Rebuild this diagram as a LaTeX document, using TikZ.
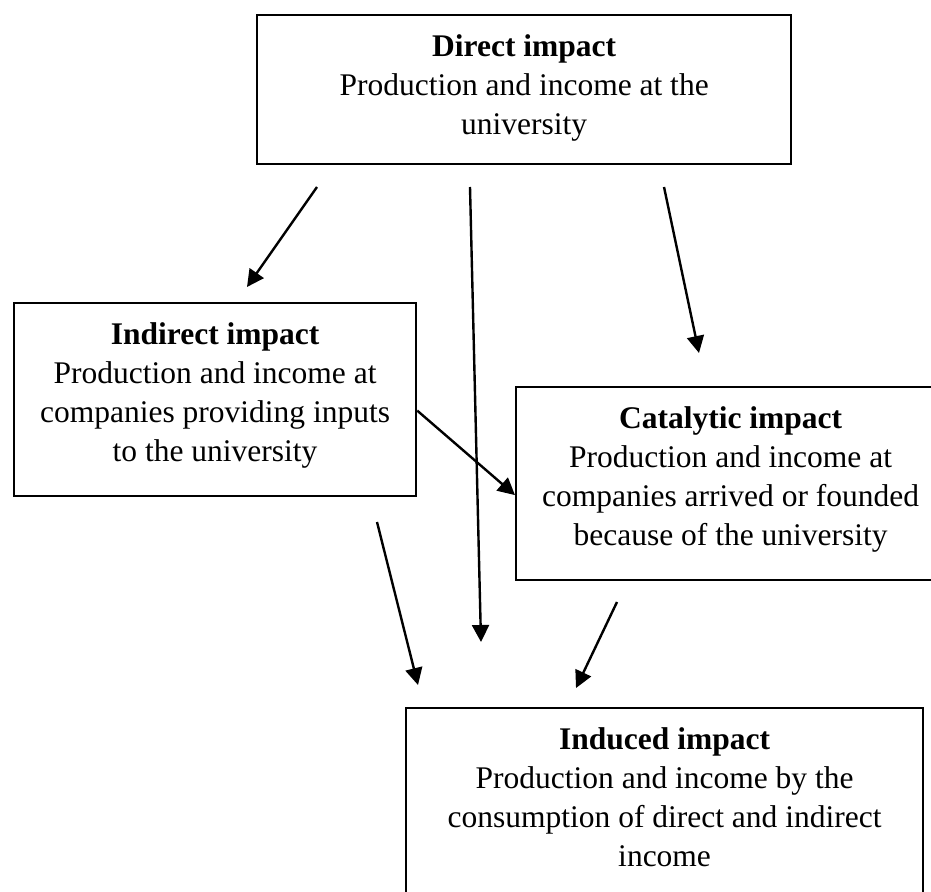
\documentclass[tikz,border=0pt]{standalone}
\usepackage{fontspec}
\setmainfont{Liberation Serif}
\usetikzlibrary{arrows.meta,positioning}
\newcommand{\impactfont}{\fontsize{15.75pt}{19.5pt}\selectfont}
\tikzstyle{impactbox}=[draw, line width=1.1pt, inner xsep=0pt, inner ysep=10pt, anchor=north west, font=\impactfont]
\tikzstyle{flow}=[-{Triangle[length=8.5pt,width=8.5pt]}, line width=1.2pt]
\newcommand{\impactnode}[6]{\node[impactbox] (#1) at (#2) {\parbox[c][#4][t]{#3}{\centering\textbf{#5}\\#6}};}

\begin{document}
\begin{tikzpicture}[x=0.5pt, y=-0.5pt]
\useasboundingbox (0,0) rectangle (931,892);
\clip (0,0) rectangle (931,892);

\impactnode{direct}{256,14}{267pt}{54.5pt}{Direct impact}{Production and income at the\\ university}
\impactnode{indirect}{13,302}{201pt}{76.5pt}{Indirect impact}{Production and income at\\ companies providing inputs\\ to the university}
\impactnode{catalytic}{515,386}{214.5pt}{76.5pt}{Catalytic impact}{Production and income at\\ companies arrived or founded\\ because of the university}
\impactnode{induced}{405,707}{258.5pt}{81.5pt}{Induced impact}{Production and income by the\\ consumption of direct and indirect\\ income}

% free ends of the arrows
\coordinate (s1) at (317,187);
\coordinate (e1) at (247,287);
\coordinate (s2) at (470,187);
\coordinate (e2) at (481,642);
\coordinate (s3) at (664,187);
\coordinate (e3) at (699,353);
\coordinate (s5) at (377,522);
\coordinate (e5) at (418,685);
\coordinate (s6) at (617,602);
\coordinate (e6) at (576,688);

\draw[flow] (s1) -- (e1);
\draw[flow] (s2) -- (e2);
\draw[flow] (s3) -- (e3);
\draw[flow] ([yshift=-5.5pt]indirect.east) -- ([yshift=-5.75pt]catalytic.west);
\draw[flow] (s5) -- (e5);
\draw[flow] (s6) -- (e6);
\end{tikzpicture}
\end{document}
